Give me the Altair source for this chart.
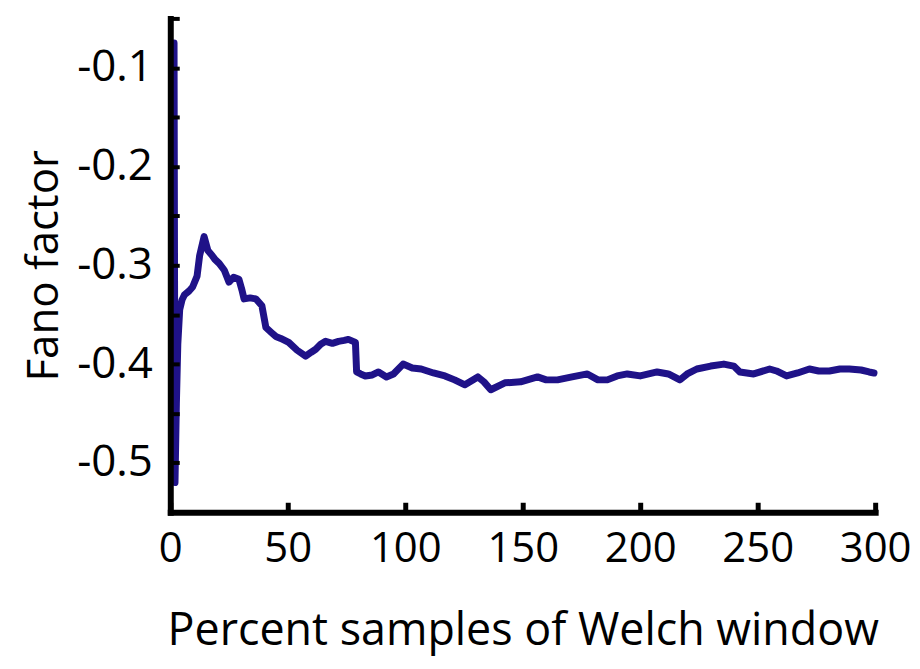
import altair as alt
import pandas as pd

pct = [1.2, 1.6, 2.0, 2.6, 3.2, 4.0, 5.0, 6.0, 8.0, 9.5, 11.4, 12.5, 14.4, 16.0, 17.8, 19.0,
       20.8, 23.0, 25.0, 27.0, 29.2, 30.5, 31.4, 34.0, 36.4, 39.0, 40.7, 43.0, 44.9, 47.0,
       50.4, 54.0, 57.6, 60.0, 61.9, 64.0, 66.1, 69.0, 71.6, 74.0, 75.8, 78.8, 79.3, 81.0,
       83.0, 86.0, 88.6, 92.0, 95.0, 99.1, 103.0, 106.8, 112.0, 116.9, 121.0, 125.4, 130.9,
       133.5, 136.4, 142.4, 149.1, 156.3, 160.0, 164.8, 171.0, 177.5, 182.0, 186.0, 190.2,
       194.5, 200.0, 207.2, 212.0, 216.9, 220.0, 224.1, 230.0, 235.6, 239.8, 242.4, 248.3,
       255.1, 258.0, 262.3, 267.0, 272.0, 276.0, 280.5, 285.0, 289.0, 294.0, 297.4, 299.5]
fano = [-0.500, -0.075, -0.520, -0.440, -0.380, -0.345, -0.335, -0.330, -0.326, -0.322,
        -0.311, -0.290, -0.271, -0.285, -0.290, -0.294, -0.298, -0.305, -0.317, -0.312,
        -0.314, -0.325, -0.334, -0.333, -0.334, -0.341, -0.363, -0.368, -0.372, -0.374,
        -0.378, -0.386, -0.392, -0.388, -0.385, -0.380, -0.377, -0.379, -0.377, -0.376,
        -0.375, -0.378, -0.408, -0.410, -0.412, -0.411, -0.408, -0.413, -0.410, -0.400,
        -0.404, -0.405, -0.409, -0.412, -0.416, -0.421, -0.413, -0.418, -0.426, -0.419,
        -0.418, -0.413, -0.416, -0.416, -0.413, -0.410, -0.416, -0.416, -0.412, -0.410,
        -0.412, -0.408, -0.410, -0.416, -0.410, -0.405, -0.402, -0.400, -0.402, -0.408,
        -0.410, -0.405, -0.407, -0.412, -0.409, -0.405, -0.407, -0.407, -0.405, -0.405,
        -0.406, -0.408, -0.409]

x_tick_values = [0, 50, 100, 150, 200, 250, 300]
y_tick_values = [-0.55, -0.5, -0.45, -0.4, -0.35, -0.3, -0.25, -0.2, -0.15, -0.1, -0.05]

df = pd.DataFrame({"pct": pct, "fano": fano})

FONT = "Open Sans"
W, H = 708, 496

# inward ticks: very short grid dashes that start at the axis lines
X_TICK_LEN = 10
Y_TICK_LEN = 9

line = alt.Chart(df).mark_line(
    color="#1f1288", strokeWidth=7, strokeJoin="round", strokeCap="round"
).encode(
    x=alt.X("pct:Q", scale=alt.Scale(domain=[0, 300], nice=False, zero=False),
            axis=alt.Axis(
                title="Percent samples of Welch window", values=x_tick_values,
                ticks=False, tickSize=0, zindex=1,
                grid=True, gridColor="black", gridWidth=5,
                gridDash=[X_TICK_LEN, 3000],
                gridCap="butt", gridOpacity=1,
                domainWidth=6, domainColor="black", domainCap="square",
                labelFont=FONT, labelFontSize=42, labelColor="black", labelPadding=16,
                labelFlush=False, labelOverlap=False,
                titleFont=FONT, titleFontSize=45, titleFontWeight="normal",
                titleColor="black", titlePadding=40)),
    # descending domain with a reversed range: top is -0.05, bottom is -0.55,
    # and the x-axis grid dashes start at the bottom axis line
    y=alt.Y("fano:Q", scale=alt.Scale(domain=[-0.05, -0.55], reverse=True, nice=False, zero=False),
            axis=alt.Axis(
                title="Fano factor", values=y_tick_values,
                labelExpr="(round(abs(datum.value) * 100) % 10 == 0 && abs(datum.value) < 0.52) ? '-' + format(abs(datum.value), '.1f') : ''",
                ticks=False, tickSize=0, zindex=1,
                grid=True, gridColor="black", gridWidth=4,
                gridDash=[Y_TICK_LEN, 3000],
                gridCap="butt", gridOpacity=1,
                domainWidth=6, domainColor="black", domainCap="square",
                labelFont=FONT, labelFontSize=44, labelColor="black", labelPadding=18,
                labelFlush=False, labelOverlap=False,
                titleFont=FONT, titleFontSize=44, titleFontWeight="normal",
                titleColor="black", titlePadding=10)),
)

chart = line.properties(
    width=W, height=H,
    autosize=alt.AutoSizeParams(type="none"),
    padding={"left": 163, "top": 9, "right": 37, "bottom": 150},
).configure_view(stroke=None)

chart.save("out.html", embed_options={"renderer": "svg", "actions": False})
